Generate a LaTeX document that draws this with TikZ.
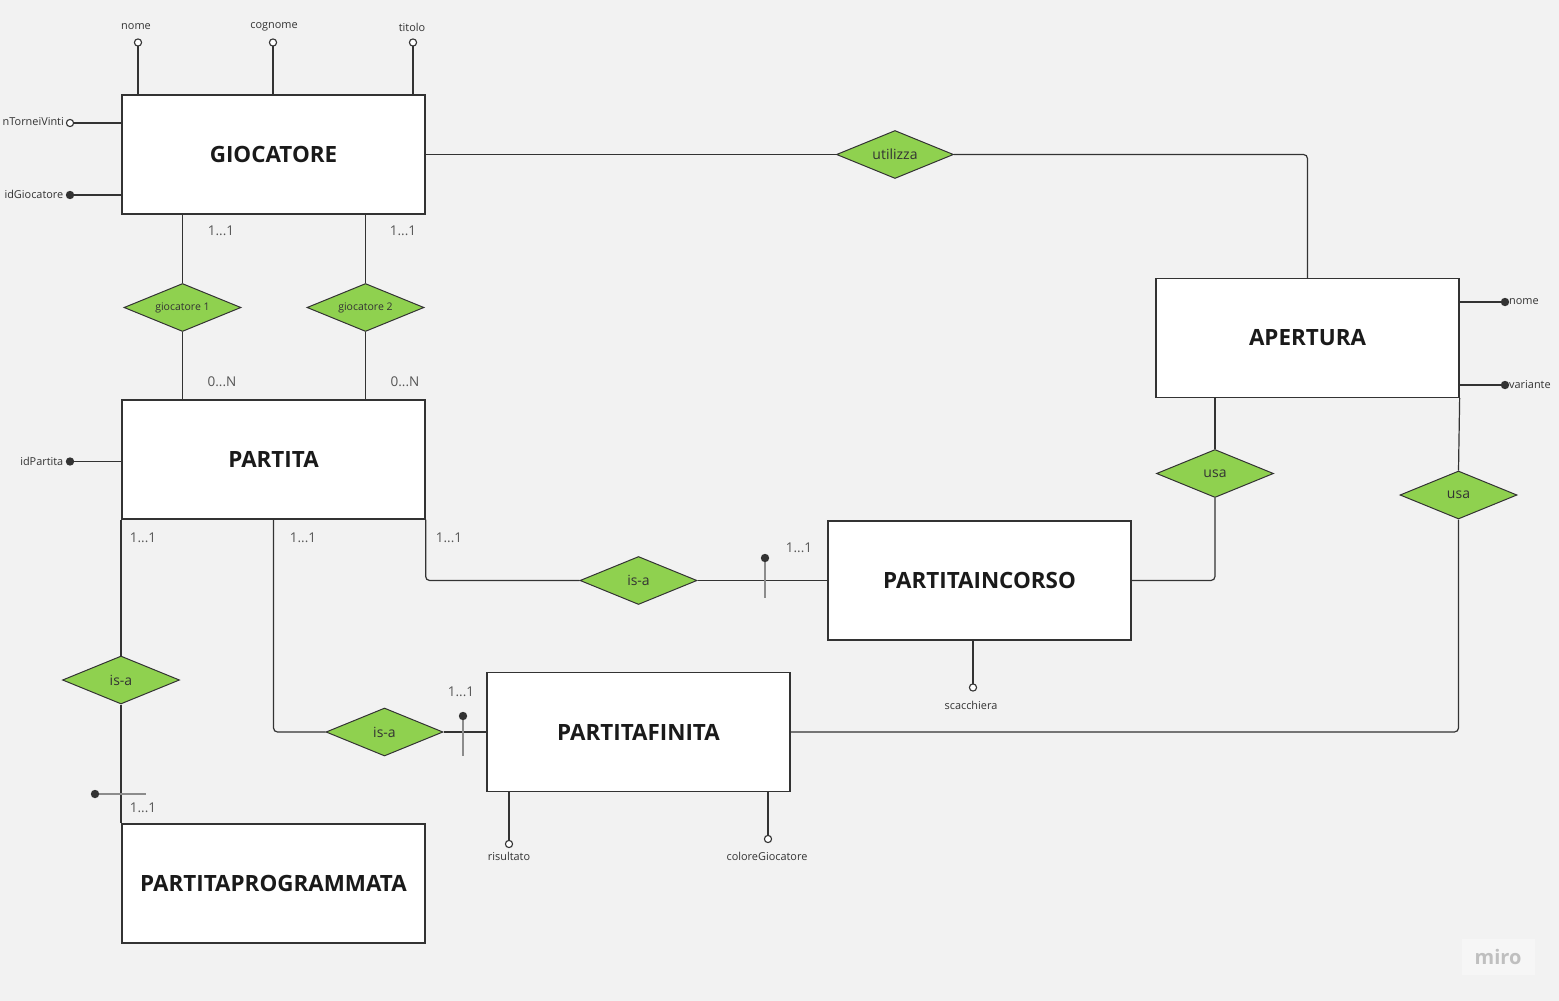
\documentclass[tikz,border=0pt]{standalone}
\usepackage{fontspec}
\setmainfont{Open Sans}
\usetikzlibrary{shapes.geometric}
\definecolor{bg}{HTML}{F2F2F2}
\definecolor{dgreen}{HTML}{8FD14F}
\definecolor{ln}{HTML}{333333}
\definecolor{txt}{HTML}{1A1A1A}
\definecolor{card}{HTML}{555555}
\tikzset{
  entity/.style={draw=ln, line width=1.3pt, fill=white, minimum width=303pt, minimum height=119pt, inner sep=0pt, font=\fontsize{22.4}{24}\selectfont\bfseries, text=txt},
  rel/.style={diamond, aspect=2.44, draw=ln, line width=1pt, fill=dgreen, minimum width=117pt, minimum height=48pt, inner sep=0pt, font=\fontsize{14}{16}\selectfont, text=ln},
  relsmall/.style={rel, font=\fontsize{10.5}{12}\selectfont},
  conn/.style={draw=ln, line width=1.2pt, rounded corners=4pt},
  attr/.style={font=\fontsize{10.9}{12}\selectfont, text=ln, inner sep=1pt},
  cardl/.style={font=\fontsize{13.5}{15}\selectfont, text=card, inner sep=0pt},
  odot/.style={draw=ln, line width=1.1pt, fill=white},
  fdot/.style={fill=ln},
  tick/.style={draw=gray!90, line width=1.4pt}
}
\begin{document}
\begin{tikzpicture}[x=1pt,y=-1pt]
\fill[bg] (0,0) rectangle (1559,1001);
\useasboundingbox (0,0) rectangle (1559,1001);

% entities
\node[entity] (gioc) at (273.5,154.5) {GIOCATORE};
\node[entity] (part) at (273.5,459.5) {PARTITA};
\node[entity] (prog) at (273.5,883.5) {PARTITAPROGRAMMATA};
\node[entity] (aper) at (1307.5,338) {APERTURA};
\node[entity] (inco) at (979.5,580.5) {PARTITAINCORSO};
\node[entity] (fini) at (638.5,732) {PARTITAFINITA};

% relationships
\node[rel] (util) at (895,154.5) {utilizza};
\node[relsmall] (g1) at (182.5,307.5) {giocatore 1};
\node[relsmall] (g2) at (365.5,307.5) {giocatore 2};
\node[rel] (usa1) at (1215,473.5) {usa};
\node[rel] (usa2) at (1458.5,495) {usa};
\node[rel] (isa1) at (638.5,580.5) {is-a};
\node[rel] (isa2) at (384.5,732) {is-a};
\node[rel] (isa3) at (121,680) {is-a};

% connectors
\draw[conn] (gioc.east) -- (util.west);
\draw[conn] (util.east) -| (aper.north);
\draw[conn] (gioc.south -| g1.north) -- (g1.north);
\draw[conn] (g1.south) -- (part.north -| g1.south);
\draw[conn] (gioc.south -| g2.north) -- (g2.north);
\draw[conn] (g2.south) -- (part.north -| g2.south);
\draw[conn] (part.south east) |- (isa1.west);
\draw[conn] (isa1.east) -- (inco.west);
\draw[conn] (part.south) |- (isa2.west);
\draw[conn] (isa2.east) -- (fini.west);
\draw[conn] (part.south west -| isa3.north) -- (isa3.north);
\draw[conn] (isa3.south) -- (prog.north west -| isa3.south);
\draw[conn] (inco.east) -| (usa1.south);
\draw[conn] (usa1.north) -- (aper.south -| usa1.north);
\draw[conn] (fini.east) -| (usa2.south);
\draw[conn] (usa2.north) -- (aper.south east);

% cardinalities
\node[cardl] (c1) at (221,231) {1...1};
\node[cardl] (c2) at (403,231) {1...1};
\node[cardl] (c3) at (222,382) {0...N};
\node[cardl] (c4) at (405,382) {0...N};
\node[cardl] (c5) at (143,538) {1...1};
\node[cardl] (c6) at (303,538) {1...1};
\node[cardl] (c7) at (449,538) {1...1};
\node[cardl] (c8) at (799,548) {1...1};
\node[cardl] (c9) at (461,692) {1...1};
\node[cardl] (c10) at (143,808) {1...1};

% ticks (is-a markers)
\coordinate (t1a) at (765,558); \coordinate (t1b) at (765,598);
\draw[tick] (t1a) -- (t1b); \fill[fdot] (t1a) circle (4.2pt);
\coordinate (t2a) at (463,716); \coordinate (t2b) at (463,756);
\draw[tick] (t2a) -- (t2b); \fill[fdot] (t2a) circle (4.2pt);
\coordinate (t3a) at (95,794); \coordinate (t3b) at (146,794);
\draw[tick] (t3a) -- (t3b); \fill[fdot] (t3a) circle (4.2pt);

% attributes GIOCATORE
\coordinate (a1) at (138,42.5);
\draw[conn] (gioc.north -| a1) -- (a1);
\draw[odot] (a1) circle (3.6pt);
\node[attr] (l1) at (136,27) {nome};
\coordinate (a2) at (273,42.5);
\draw[conn] (gioc.north -| a2) -- (a2);
\draw[odot] (a2) circle (3.6pt);
\node[attr] (l2) at (274,27) {cognome};
\coordinate (a3) at (413,42.5);
\draw[conn] (gioc.north -| a3) -- (a3);
\draw[odot] (a3) circle (3.6pt);
\node[attr] (l3) at (412,27) {titolo};
\coordinate (a4) at (70,123);
\draw[conn] (gioc.west |- a4) -- (a4);
\draw[odot] (a4) circle (3.6pt);
\node[attr, anchor=east] (l4) at (65,122) {nTorneiVinti};
\coordinate (a5) at (70,195);
\draw[conn] (gioc.west |- a5) -- (a5);
\fill[fdot] (a5) circle (4.2pt);
\node[attr, anchor=east] (l5) at (64.5,194) {idGiocatore};

% PARTITA attribute
\coordinate (a6) at (70,461.5);
\draw[conn] (part.west |- a6) -- (a6);
\fill[fdot] (a6) circle (4.2pt);
\node[attr, anchor=east] (l6) at (64.5,461.5) {idPartita};

% APERTURA attributes
\coordinate (a7) at (1505,302);
\draw[conn] (aper.east |- a7) -- (a7);
\fill[fdot] (a7) circle (4.2pt);
\node[attr, anchor=west] (l7) at (1508,302) {nome};
\coordinate (a8) at (1505,385);
\draw[conn] (aper.east |- a8) -- (a8);
\fill[fdot] (a8) circle (4.2pt);
\node[attr, anchor=west] (l8) at (1508,385) {variante};

% PARTITAINCORSO attribute
\coordinate (a9) at (973,687.5);
\draw[conn] (inco.south -| a9) -- (a9);
\draw[odot] (a9) circle (3.6pt);
\node[attr] (l9) at (971,705) {scacchiera};

% PARTITAFINITA attributes
\coordinate (a10) at (509,844);
\draw[conn] (fini.south -| a10) -- (a10);
\draw[odot] (a10) circle (3.6pt);
\node[attr] (l10) at (509,856.5) {risultato};
\coordinate (a11) at (768,839);
\draw[conn] (fini.south -| a11) -- (a11);
\draw[odot] (a11) circle (3.6pt);
\node[attr] (l11) at (767,856.5) {coloreGiocatore};

% miro watermark
\node[fill=white!30!bg, minimum width=73pt, minimum height=36pt, inner sep=0pt, text=black!25, font=\fontsize{20}{22}\selectfont\bfseries] (miro) at (1498,957) {miro};
\end{tikzpicture}
\end{document}
